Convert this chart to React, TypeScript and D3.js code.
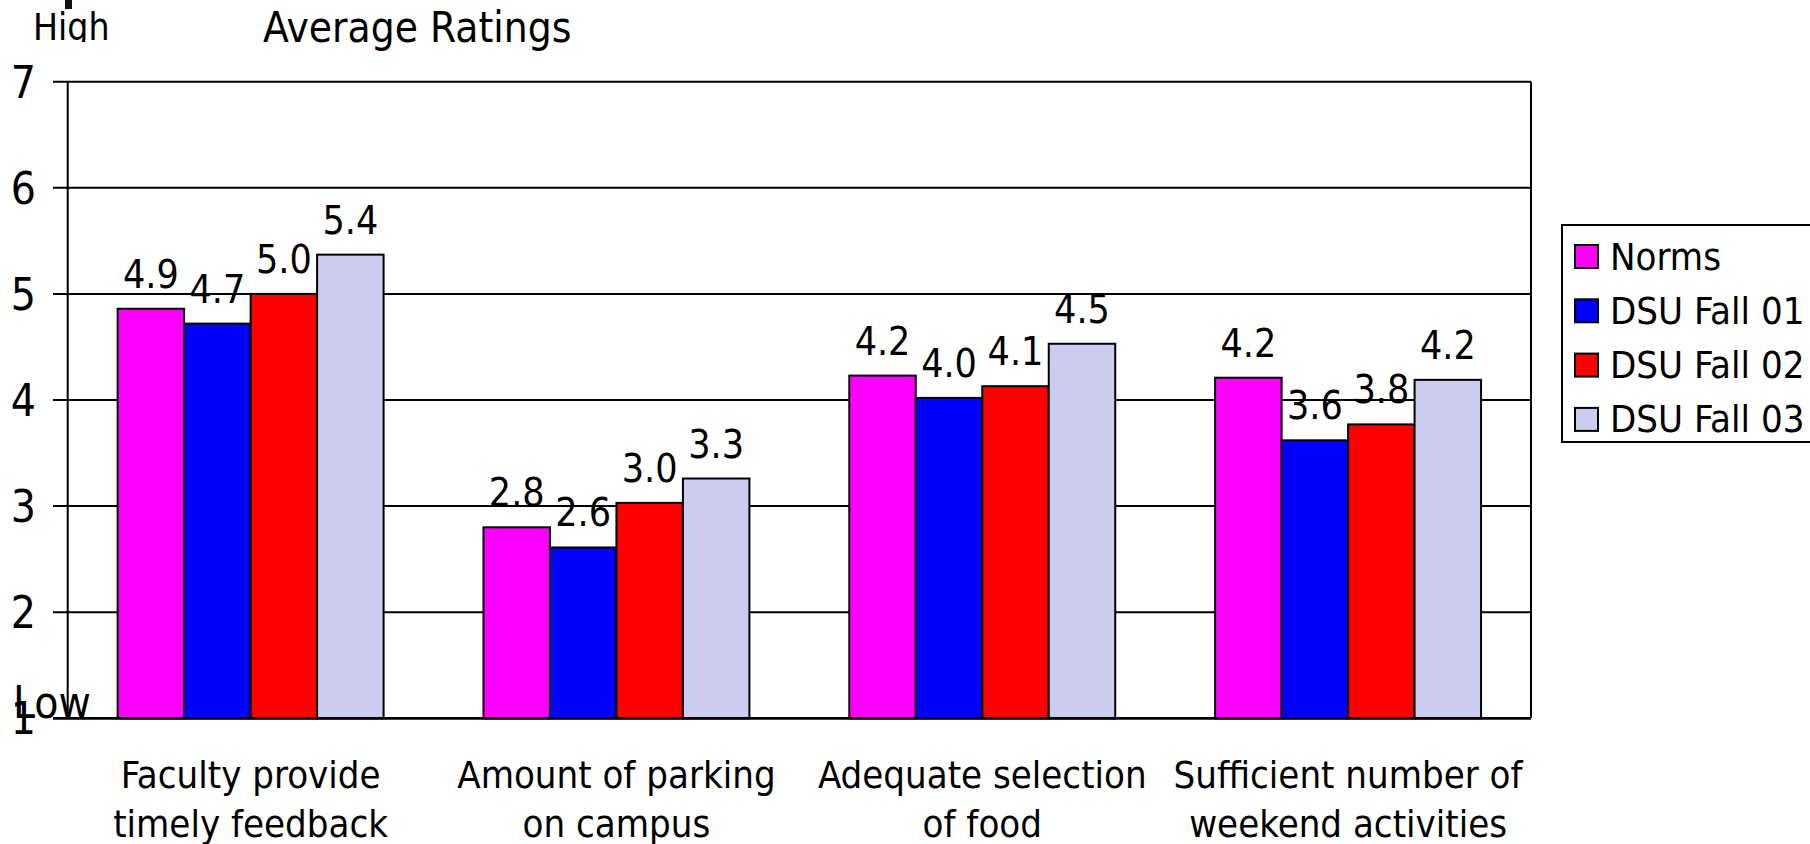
import React from "react";
import * as d3 from "d3";

// Survey items (two-line labels) and the four rating series
const categories = [
  ["Faculty provide", "timely feedback"],
  ["Amount of parking", "on campus"],
  ["Adequate selection", "of food"],
  ["Sufficient number of", "weekend activities"],
];
const seriesNames = ["Norms", "DSU Fall 01", "DSU Fall 02", "DSU Fall 03"];
const seriesColors = ["#FF00FF", "#0000FF", "#FF0000", "#CCCCF0"];
const norms = [4.86, 2.8, 4.23, 4.21];
const fall01 = [4.72, 2.61, 4.02, 3.62];
const fall02 = [5.0, 3.03, 4.13, 3.77];
const fall03 = [5.37, 3.26, 4.53, 4.19];
const yTicks = [1, 2, 3, 4, 5, 6, 7];

const seriesValues = [norms, fall01, fall02, fall03];

const FONT = "'DejaVu Sans Condensed', 'DejaVu Sans', sans-serif";

export default function App() {
  const W = 1810;
  const H = 844;
  const left = 67.7;
  const right = 1531;
  const top = 81.7;
  const bottom = 718.3;

  const y = d3.scaleLinear().domain([1, 7]).range([bottom, top]);
  const catKeys = categories.map((c) => c.join(" "));
  const x0 = d3.scaleBand<string>().domain(catKeys).range([left, right]).padding(0);
  const bw = x0.bandwidth();
  const x1 = d3
    .scaleBand<string>()
    .domain(seriesNames)
    .range([bw * 0.1365, bw * 0.8635])
    .padding(0);

  const legendX = 1562;
  const legendY = 225;
  const rowY = (i: number) => 256.5 + i * 54.3;

  return (
    <svg
      width={W}
      height={H}
      style={{ position: "absolute", left: 0, top: 0, background: "#fff" }}
      fontFamily={FONT}
      fontStretch="condensed"
    >
      <defs>
        <clipPath id="highClip">
          <rect x={0} y={0} width={200} height={42} />
        </clipPath>
      </defs>
      <rect x={0} y={0} width={W} height={H} fill="#fff" />

      {/* small mark above the axis */}
      <rect x={65} y={0} width={7} height={9} fill="#111" />

      <text x={33} y={40} fontSize={37} clipPath="url(#highClip)">
        High
      </text>
      <text x={263} y={42} fontSize={42}>
        Average Ratings
      </text>

      {/* gridlines and ticks */}
      {yTicks.map((t) => (
        <line
          key={"g" + t}
          x1={53}
          x2={right}
          y1={y(t)}
          y2={y(t)}
          stroke="#000"
          strokeWidth={t === 1 ? 2.6 : 2}
        />
      ))}
      {yTicks.map((t) => (
        <text
          key={"t" + t}
          x={36}
          y={y(t) + 16}
          fontSize={44}
          textAnchor="end"
        >
          {t}
        </text>
      ))}
      <line x1={left} x2={left} y1={top} y2={bottom} stroke="#000" strokeWidth={2} />
      <line x1={right} x2={right} y1={top} y2={bottom} stroke="#000" strokeWidth={2} />

      {/* bars */}
      {categories.map((c, ci) =>
        seriesNames.map((s, si) => {
          const v = seriesValues[si][ci];
          const bx = (x0(catKeys[ci]) as number) + (x1(s) as number);
          return (
            <rect
              key={ci + "-" + si}
              x={bx}
              y={y(v)}
              width={x1.bandwidth()}
              height={y(1) - y(v)}
              fill={seriesColors[si]}
              stroke="#000"
              strokeWidth={2}
            />
          );
        })
      )}
      <line x1={53} x2={right} y1={bottom} y2={bottom} stroke="#000" strokeWidth={2.6} />

      {/* value labels */}
      {categories.map((c, ci) =>
        seriesNames.map((s, si) => {
          const v = seriesValues[si][ci];
          const cx = (x0(catKeys[ci]) as number) + (x1(s) as number) + x1.bandwidth() / 2;
          return (
            <text
              key={"v" + ci + "-" + si}
              x={cx}
              y={y(v) - 21}
              fontSize={39}
              textAnchor="middle"
            >
              {v.toFixed(1)}
            </text>
          );
        })
      )}

      <text x={13} y={718} fontSize={44}>
        Low
      </text>

      {/* category labels */}
      {categories.map((c, ci) => {
        const cx = (x0(catKeys[ci]) as number) + bw / 2;
        return (
          <text key={"c" + ci} x={cx} fontSize={38} textAnchor="middle">
            <tspan x={cx} y={788}>
              {c[0]}
            </tspan>
            <tspan x={cx} y={836.5}>
              {c[1]}
            </tspan>
          </text>
        );
      })}

      {/* legend */}
      <rect
        x={legendX}
        y={legendY}
        width={300}
        height={217}
        fill="#fff"
        stroke="#000"
        strokeWidth={2}
      />
      {seriesNames.map((s, i) => (
        <g key={"l" + i}>
          <rect
            x={1575}
            y={rowY(i) - 11.5}
            width={23}
            height={23}
            fill={seriesColors[i]}
            stroke="#000"
            strokeWidth={2}
          />
          <text x={1610} y={rowY(i) + 13} fontSize={38}>
            {s}
          </text>
        </g>
      ))}
    </svg>
  );
}
